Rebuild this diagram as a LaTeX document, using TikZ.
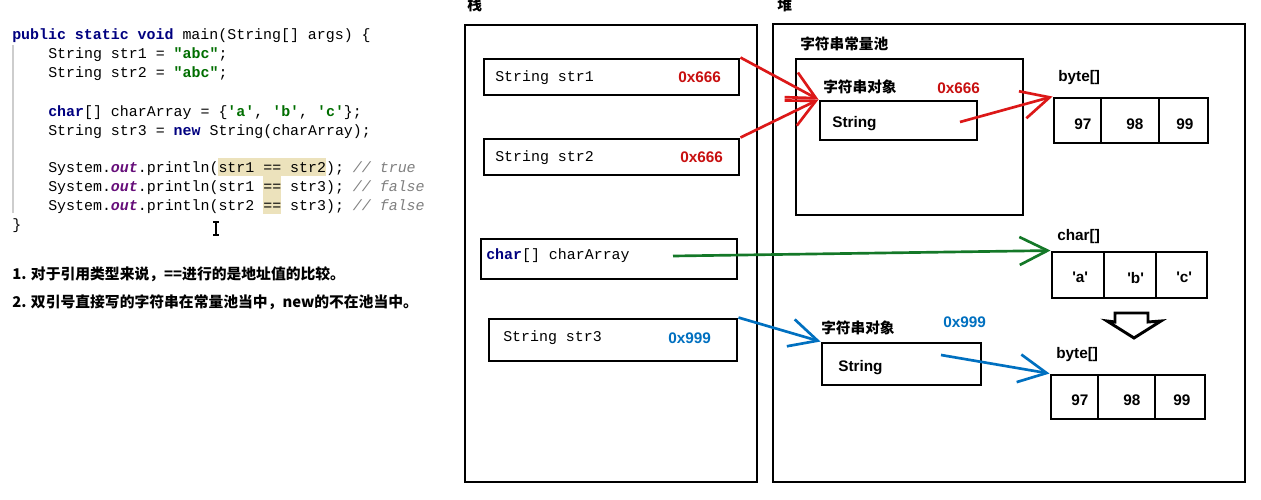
\documentclass[tikz,border=0pt]{standalone}
\usepackage{fontspec}
\setmainfont{Liberation Sans}[Ligatures=TeXOff]
\setmonofont{Liberation Mono}
\newfontfamily\cjk{Noto Sans CJK SC}[Ligatures=TeXOff]
\usetikzlibrary{arrows.meta}
\definecolor{kw}{RGB}{0,0,128}
\definecolor{strc}{RGB}{0,110,0}
\definecolor{pur}{RGB}{102,14,122}
\definecolor{cm}{RGB}{128,128,128}
\definecolor{hl}{RGB}{236,226,188}
\definecolor{redt}{RGB}{200,16,16}
\definecolor{reda}{RGB}{220,24,24}
\definecolor{grna}{RGB}{20,120,40}
\definecolor{blua}{RGB}{0,112,192}
\definecolor{guide}{RGB}{205,205,205}
\newcommand{\pbox}[6][]{\node[box,#1,minimum width={(#5-#3)*0.75pt},minimum height={(#6-#4)*0.75pt}] (#2) at ({(#3+#5)/2},{(#4+#6)/2}) {};}
\begin{document}
\begin{tikzpicture}[x=0.75pt,y=-0.75pt,
  box/.style={draw=black,line width=2.2pt,inner sep=0pt},
  code/.style={font=\ttfamily\fontsize{11.2}{13}\selectfont,anchor=base west,inner sep=0pt},
  mono/.style={font=\ttfamily\fontsize{11.2}{13}\selectfont,anchor=west,inner sep=0pt},
  note/.style={font=\cjk\bfseries\fontsize{11.1}{13}\selectfont,anchor=west,inner sep=0pt},
  zh/.style={font=\cjk\bfseries\fontsize{11}{13}\selectfont,anchor=west,inner sep=0pt},
  lab/.style={font=\bfseries\fontsize{11.5}{13}\selectfont,anchor=west,inner sep=0pt},
  arr/.style={line width=2pt,-{Straight Barb[length=21pt,width=21pt,line width=2pt]}},
]
\useasboundingbox (0,0) rectangle (1261,500);
\fill[white] (0,0) rectangle (1261,500);

% ---------- code ----------
\fill[hl] (218,158) rectangle (326,176);
\fill[hl] (263,176) rectangle (281,214);
\draw[guide,line width=0.8pt] (13,45) -- (13,213);
\node[code] (c1) at (12,39) {{\bfseries\color{kw}public static void} main(String[] args) \{};
\node[code] (c2) at (48,58) {String str1 = {\bfseries\color{strc}"abc"};};
\node[code] (c3) at (48,77) {String str2 = {\bfseries\color{strc}"abc"};};
\node[code] (c4) at (48,116) {{\bfseries\color{kw}char}[] charArray = \{{\bfseries\color{strc}'a'}, {\bfseries\color{strc}'b'}, {\bfseries\color{strc}'c'}\};};
\node[code] (c5) at (48,135) {String str3 = {\bfseries\color{kw}new} String(charArray);};
\node[code] (c6) at (48,172) {System.{\bfseries\itshape\color{pur}out}.println(str1 == str2); {\itshape\color{cm}// true}};
\node[code] (c7) at (48,191) {System.{\bfseries\itshape\color{pur}out}.println(str1 == str3); {\itshape\color{cm}// false}};
\node[code] (c8) at (48,210) {System.{\bfseries\itshape\color{pur}out}.println(str2 == str3); {\itshape\color{cm}// false}};
\node[code] (c9) at (12,229) {\}};
% mouse cursor
\draw[line width=0.8pt] (213,222) -- (219,222) (216,222) -- (216,235) (213,235) -- (219,235);

% ---------- notes ----------
\node[note] (n1) at (12,274) {1. 对于引用类型来说，==进行的是地址值的比较。};
\node[note] (n2) at (12,302) {2. 双引号直接写的字符串在常量池当中，new的不在池当中。};

% ---------- stack ----------
\node[zh] (lstack) at (467,5) {栈};
\pbox{stack}{465}{25}{757}{482}
\pbox{s1}{484}{59}{739}{95}
\node[mono] at (495,78) {String str1};
\node[lab,text=redt] at (678,77) {0x666};
\pbox{s2}{484}{139}{739}{175}
\node[mono] at (495,158) {String str2};
\node[lab,text=redt] at (680,157) {0x666};
\pbox{s4}{481}{239}{737}{279}
\node[mono] at (486,256) {{\bfseries\color{kw}char}[] charArray};
\pbox{s3}{489}{319}{737}{361}
\node[mono] at (503,338) {String str3};
\node[lab,text=blua] at (668,338) {0x999};

% ---------- heap ----------
\node[zh] (lheap) at (777,5) {堆};
\pbox{heap}{773}{24}{1245}{482}
\node[zh] at (800,44) {字符串常量池};
\pbox{pool}{796}{59}{1023}{215}
\node[zh] at (823,87) {字符串对象};
\node[lab,text=redt] at (937,88) {0x666};
\pbox{o1}{820}{101}{977}{140}
\node[lab] at (832,124) {String};

\node[lab] at (1058,78) {byte[]};
\pbox{b1a}{1054}{98}{1101}{143}
\pbox{b1b}{1101}{98}{1159}{143}
\pbox{b1c}{1159}{98}{1208}{143}
\node[lab] at (1074,124) {97};
\node[lab] at (1126,124) {98};
\node[lab] at (1176,124) {99};

\node[lab] at (1057,237) {char[]};
\pbox{ca}{1052}{252}{1104}{298}
\pbox{cb}{1104}{252}{1156}{298}
\pbox{cc}{1156}{252}{1207}{298}
\node[lab] at (1072,277) {'a'};
\node[lab] at (1127,278) {'b'};
\node[lab] at (1176,277) {'c'};

\draw[line width=2.2pt,line join=miter] (1115,313) -- (1148,313) -- (1148,322) -- (1161,321) -- (1134,338) -- (1107,321) -- (1115,322) -- cycle;

\node[zh] at (821,328) {字符串对象};
\node[lab,text=blua] at (943,322) {0x999};
\pbox{o2}{822}{343}{981}{385}
\node[lab] at (838,368) {String};

\node[lab] at (1056,355) {byte[]};
\pbox{b2a}{1051}{375}{1098}{419}
\pbox{b2b}{1098}{375}{1155}{419}
\pbox{b2c}{1155}{375}{1205}{419}
\node[lab] at (1071,400) {97};
\node[lab] at (1123,400) {98};
\node[lab] at (1173,400) {99};

% ---------- connectors ----------
\coordinate (r3s) at (960,122);
\coordinate (gs) at (673,256);
\coordinate (b2s) at (941,355);
\draw[arr,reda] (s1.north east) -- (o1.north west);
\draw[arr,reda] (s2.north east) -- (o1.north west);
\draw[arr,reda] (r3s) -- (b1a.north west);
\draw[arr,grna] (gs) -- (ca.north west);
\draw[arr,blua] (s3.north east) -- (o2.north west);
\draw[arr,blua] (b2s) -- (b2a.north west);
\end{tikzpicture}
\end{document}
